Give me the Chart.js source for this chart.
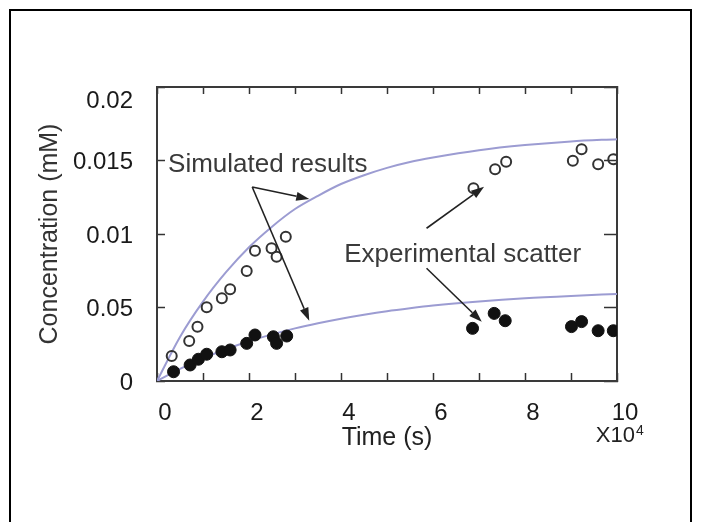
<!DOCTYPE html>
<html>
<head>
<meta charset="utf-8">
<script src="https://cdn.jsdelivr.net/npm/chart.js@4/dist/chart.umd.min.js"></script>
<style>
  html, body { margin: 0; padding: 0; background: #fff; width: 710px; height: 522px; overflow: hidden; }
  #frame { position: absolute; left: 9px; top: 9px; width: 679px; height: 530px;
           border-left: 2px solid #000; border-top: 2px solid #000; border-right: 2px solid #000; }
  #c { position: absolute; left: 0; top: 0; }
</style>
</head>
<body>
<div id="frame"></div>
<canvas id="c" width="710" height="522"></canvas>
<script>
// ---- data (time in units of 1e4 s, concentration in mM) ----
const simTime      = [0, 0.5, 1, 1.5, 2, 2.5, 3, 3.5, 4, 4.5, 5, 5.5, 6, 7, 8, 9, 10];
const simUpper     = [0, 0.0030, 0.0054, 0.0074, 0.0091, 0.0105, 0.0117, 0.0126, 0.0134, 0.0140, 0.0145, 0.0149, 0.0152, 0.0157, 0.01605, 0.0163, 0.01645];
const simLower     = [0, 0.00082, 0.00154, 0.00216, 0.0027, 0.00317, 0.00358, 0.00393, 0.00424, 0.00451, 0.00475, 0.00495, 0.00513, 0.00541, 0.00563, 0.00579, 0.00592];
const openTime     = [0.32, 0.70, 0.88, 1.08, 1.41, 1.59, 1.95, 2.13, 2.49, 2.60, 2.80, 6.88, 7.35, 7.59, 9.04, 9.23, 9.59, 9.92];
const openConc     = [0.0017, 0.00272, 0.00369, 0.00501, 0.00563, 0.00624, 0.00748, 0.00886, 0.00903, 0.00846, 0.00982, 0.01311, 0.0144, 0.01492, 0.01499, 0.01576, 0.01474, 0.01508];
const filledTime   = [0.36, 0.72, 0.90, 1.08, 1.41, 1.59, 1.95, 2.13, 2.53, 2.60, 2.82, 6.86, 7.33, 7.57, 9.01, 9.23, 9.59, 9.92];
const filledConc   = [0.00063, 0.00109, 0.00148, 0.00182, 0.00199, 0.00211, 0.00256, 0.00313, 0.00301, 0.00256, 0.00306, 0.00358, 0.0046, 0.0041, 0.0037, 0.00404, 0.00342, 0.00342];
const xTickLabels  = ['0', '', '2', '', '4', '', '6', '', '8', '', '10'];
const yTickLabels  = ['0', '0.05', '0.01', '0.015', '0.02'];
const xTitle       = 'Time (s)';
const yTitle       = 'Concentration (mM)';
const xMultiplier  = ['X10', '4'];
// annotation texts: [text, t, c]
const noteTexts    = [['Simulated results', 0.24, 0.01422], ['Experimental scatter', 4.07, 0.0081]];
// arrows: [fromT, fromC, toT, toC]
const noteArrows   = [[2.07, 0.0132, 3.31, 0.01238], [2.07, 0.0132, 3.31, 0.0041],
                      [5.86, 0.01039, 7.11, 0.01322], [5.86, 0.00767, 7.06, 0.00403]];

const pts = (xs, ys) => xs.map((x, i) => ({ x: x, y: ys[i] }));
const FONT = "'Liberation Sans', Arial, sans-serif";

const annotate = {
  id: 'annotate',
  afterDatasetsDraw(chart) {
    const ctx = chart.ctx, xs = chart.scales.x, ys = chart.scales.y;
    ctx.save();
    ctx.strokeStyle = '#222'; ctx.fillStyle = '#222'; ctx.lineWidth = 1.6;
    noteArrows.forEach(a => {
      const x1 = xs.getPixelForValue(a[0]), y1 = ys.getPixelForValue(a[1]);
      const x2 = xs.getPixelForValue(a[2]), y2 = ys.getPixelForValue(a[3]);
      const ang = Math.atan2(y2 - y1, x2 - x1), L = 13, W = 4.5;
      const bx = x2 - L * Math.cos(ang), by = y2 - L * Math.sin(ang);
      ctx.beginPath(); ctx.moveTo(x1, y1); ctx.lineTo(bx, by); ctx.stroke();
      ctx.beginPath(); ctx.moveTo(x2, y2);
      ctx.lineTo(bx + W * Math.sin(ang), by - W * Math.cos(ang));
      ctx.lineTo(bx - W * Math.sin(ang), by + W * Math.cos(ang));
      ctx.closePath(); ctx.fill();
    });
    ctx.fillStyle = '#3a3a3a';
    ctx.font = '26px ' + FONT; ctx.textBaseline = 'alphabetic'; ctx.textAlign = 'left';
    noteTexts.forEach(t => ctx.fillText(t[0], xs.getPixelForValue(t[1]), ys.getPixelForValue(t[2])));
    // axis multiplier
    ctx.fillStyle = '#222';
    ctx.font = '22px ' + FONT; ctx.textAlign = 'right';
    const xr = xs.getPixelForValue(10) + 18;
    ctx.fillText(xMultiplier[0], xr, 442);
    ctx.font = '14px ' + FONT; ctx.textAlign = 'left';
    ctx.fillText(xMultiplier[1], xr + 1, 435);
    ctx.restore();
  }
};

const axisColor = '#3a3a3a';
new Chart(document.getElementById('c'), {
  type: 'scatter',
  data: {
    datasets: [
      { label: 'open', data: pts(openTime, openConc), pointRadius: 5, pointBorderWidth: 2,
        borderColor: '#333', backgroundColor: 'rgba(255,255,255,0)', clip: 0 },
      { label: 'filled', data: pts(filledTime, filledConc), pointRadius: 6, pointBorderWidth: 1,
        borderColor: '#111', backgroundColor: '#111', clip: 0 },
      { label: 'simU', data: pts(simTime, simUpper), showLine: true, pointRadius: 0, borderWidth: 2,
        borderColor: '#9c9cd2', cubicInterpolationMode: 'monotone', clip: 0 },
      { label: 'simL', data: pts(simTime, simLower), showLine: true, pointRadius: 0, borderWidth: 2,
        borderColor: '#9c9cd2', cubicInterpolationMode: 'monotone', clip: 0 }
    ]
  },
  options: {
    responsive: false, animation: false,
    layout: { padding: { left: 0, top: 87, right: 93, bottom: 0 } },
    plugins: { legend: { display: false }, tooltip: { enabled: false } },
    scales: {
      x: {
        type: 'linear', position: 'bottom', min: 0, max: 10,
        afterFit: s => { s.height = 141; },
        border: { display: true, color: axisColor, width: 2 },
        grid: { drawOnChartArea: false, drawTicks: true, tickLength: -8, tickColor: '#333', tickWidth: 1.5 },
        ticks: { stepSize: 1, autoSkip: false, maxRotation: 0, padding: 28, labelOffset: 8, color: '#1a1a1a',
                 font: { family: FONT, size: 24, lineHeight: 1.0 },
                 callback: (v, i) => xTickLabels[i] },
        title: { display: true, text: xTitle, color: '#222', font: { family: FONT, size: 25, lineHeight: 1.2 },
                 padding: { top: 0, bottom: 69 } }
      },
      y: {
        type: 'linear', position: 'left', min: 0, max: 0.02,
        afterFit: s => { s.width = 157; },
        border: { display: true, color: axisColor, width: 2 },
        grid: { drawOnChartArea: false, drawTicks: true, tickLength: -8, tickColor: '#333', tickWidth: 1.5 },
        ticks: { stepSize: 0.005, autoSkip: false, padding: 32, labelOffset: 2, color: '#1a1a1a',
                 font: { family: FONT, size: 24, lineHeight: 1.0 },
                 callback: (v, i) => (i === 4 ? ['', yTickLabels[i]] : yTickLabels[i]) },
        title: { display: true, text: yTitle, color: '#333', font: { family: FONT, size: 25, lineHeight: 1.2 },
                 padding: { top: 35, bottom: 0 } }
      },
      x2: {
        type: 'linear', axis: 'x', position: 'top', min: 0, max: 10,
        afterFit: s => { s.height = 0; },
        border: { display: true, color: axisColor, width: 2 },
        grid: { drawOnChartArea: false, drawTicks: true, tickLength: -7, tickColor: '#333', tickWidth: 1.5 },
        ticks: { display: false, stepSize: 1, autoSkip: false }
      },
      y2: {
        type: 'linear', axis: 'y', position: 'right', min: 0, max: 0.02,
        afterFit: s => { s.width = 0; },
        border: { display: true, color: axisColor, width: 2 },
        grid: { drawOnChartArea: false, drawTicks: true, tickLength: -13, tickColor: '#333', tickWidth: 1.5 },
        ticks: { display: false, stepSize: 0.005, autoSkip: false }
      }
    }
  },
  plugins: [annotate]
});
</script>
</body>
</html>
